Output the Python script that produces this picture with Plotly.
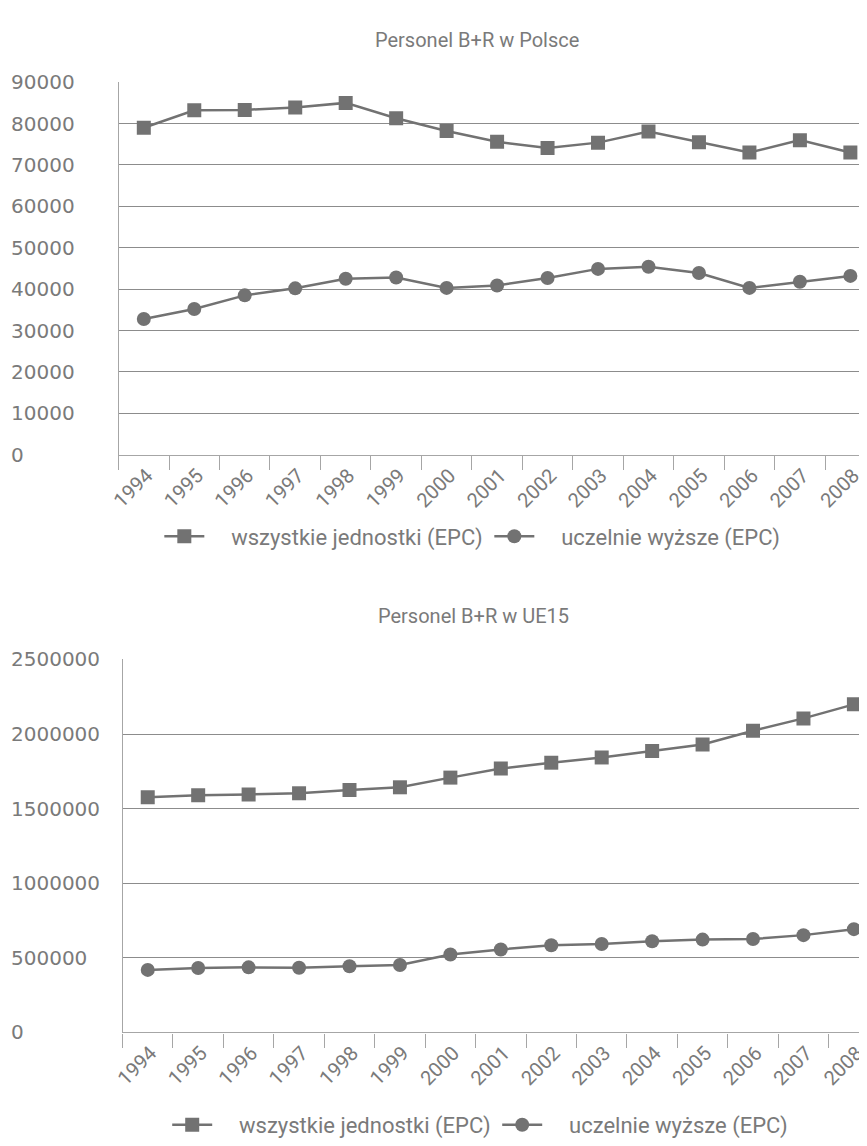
import plotly.graph_objects as go

years = [str(y) for y in range(1994, 2009)]

pl_all = [79000, 83200, 83300, 83900, 85000, 81300, 78200, 75600, 74100, 75400, 78100, 75500, 73000, 76000, 73000]
pl_uni = [32800, 35200, 38500, 40200, 42500, 42800, 40300, 40900, 42700, 44900, 45400, 43900, 40300, 41800, 43200]

eu_all = [1577000, 1590000, 1595000, 1603000, 1625000, 1643000, 1708000, 1769000, 1808000, 1843000, 1887000, 1930000, 2022000, 2105000, 2199000]
eu_uni = [419000, 432000, 436000, 433000, 443000, 452000, 522000, 556000, 584000, 593000, 611000, 622000, 626000, 652000, 692000]

name_all = "wszystkie jednostki (EPC)"
name_uni = "uczelnie wyższe (EPC)"
title_pl = "Personel B+R w Polsce"
title_eu = "Personel B+R w UE15"

OFF = 8  # page body margin
W, H = 867 - OFF, 1146 - OFF
GREY = "#727272"
TXT = "#7a7a7a"
GRID = "#8c8c8c"
AX = "#a6a6a6"

def xp(px):
    return (px - OFF) / W

def yp(py):
    return 1 - (py - OFF) / H

fig = go.Figure()

PAD = "\u00a0" * 4

def add(x, y, name, sym, xa, ya, legend):
    fig.add_trace(go.Scatter(
        x=x, y=y, name=PAD + name, mode="lines+markers",
        line=dict(color=GREY, width=2.5),
        marker=dict(symbol=sym, size=14, color=GREY),
        xaxis=xa, yaxis=ya, legend=legend, showlegend=True))

add(years, pl_all, name_all, "square", "x", "y", "legend")
add(years, pl_uni, name_uni, "circle", "x", "y3", "legend")
add(years, eu_all, name_all, "square", "x2", "y2", "legend2")
add(years, eu_uni, name_uni, "circle", "x2", "y4", "legend2")

top_dom = [yp(453.3), yp(71.7)]
bot_dom = [yp(1045), yp(663)]

xcommon = dict(type="category", categoryorder="array", categoryarray=years,
               tickson="boundaries", ticks="outside", ticklen=14, tickcolor=AX,
               tickwidth=1, showline=True, linecolor=AX, linewidth=1.3,
               showgrid=False, tickangle=-45, ticklabelshift=3,
               tickfont=dict(family="Roboto", size=20, color=TXT), zeroline=False)

ycommon = dict(showgrid=True, gridcolor=GRID, gridwidth=1, showline=True,
               linecolor=AX, linewidth=1.3, showticklabels=False, ticks="",
               zeroline=False)

ylab = dict(showgrid=False, showline=False, ticks="", side="right", anchor="free",
            position=0.0, tickformat="d", ticklabelstandoff=-8,
            tickfont=dict(family="DejaVu Sans", size=20, color=TXT), zeroline=False)

legfont = dict(family="Roboto", size=22, color=TXT)

fig.update_layout(
    width=W, height=H,
    margin=dict(l=0, r=0, t=0, b=0),
    paper_bgcolor="white", plot_bgcolor="rgba(0,0,0,0)",
    xaxis=dict(xcommon, domain=[xp(110), 1], range=[-0.5, 14.29], anchor="y"),
    xaxis2=dict(xcommon, domain=[xp(114), 1], range=[-0.5, 14.22], anchor="y2"),
    yaxis=dict(ycommon, domain=top_dom, range=[0, 90000], dtick=10000, anchor="x"),
    yaxis2=dict(ycommon, domain=bot_dom, range=[0, 2500000], dtick=500000, anchor="x2"),
    yaxis3=dict(ylab, domain=top_dom, range=[0, 90000], dtick=10000),
    yaxis4=dict(ylab, domain=bot_dom, range=[0, 2500000], dtick=500000),
    legend=dict(orientation="h", x=xp(486), xanchor="center", y=yp(537), yanchor="middle",
                font=legfont, itemwidth=40, entrywidth=275, entrywidthmode="pixels"),
    legend2=dict(orientation="h", x=xp(494), xanchor="center", y=yp(1140), yanchor="middle",
                 font=legfont, itemwidth=40, entrywidth=275, entrywidthmode="pixels"),
    annotations=[
        dict(text=title_pl, x=xp(474), y=yp(28), xref="paper", yref="paper",
             xanchor="center", yanchor="middle",
             showarrow=False, font=dict(family="Roboto", size=20, color=TXT)),
        dict(text=title_eu, x=xp(470), y=yp(618), xref="paper", yref="paper",
             xanchor="center", yanchor="middle",
             showarrow=False, font=dict(family="Roboto", size=20, color=TXT)),
    ],
    hovermode=False,
)

fig.write_html("out.html")
